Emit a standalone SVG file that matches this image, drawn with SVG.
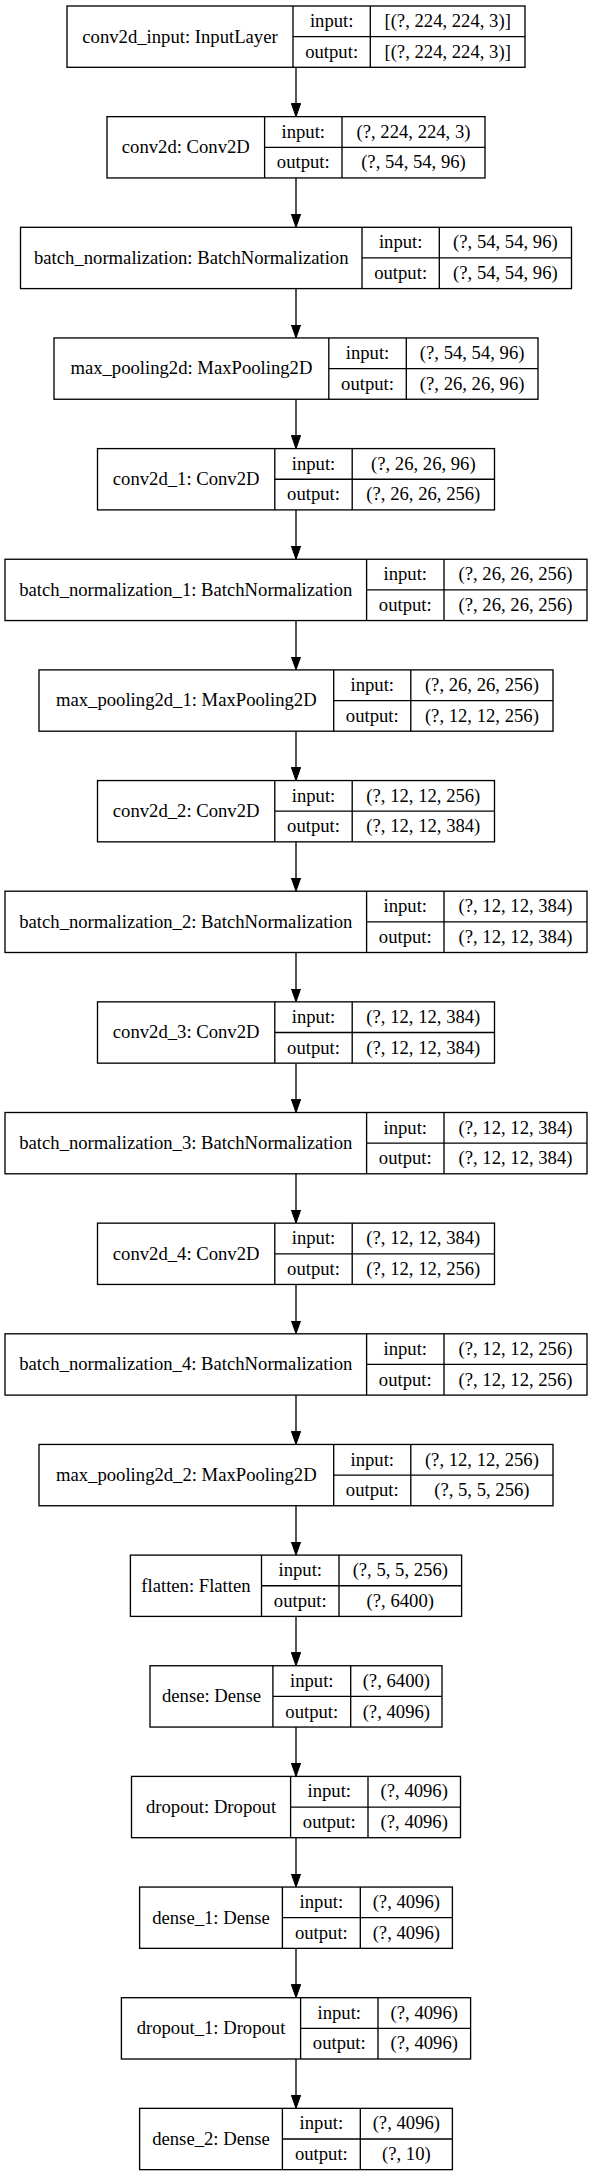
<svg xmlns="http://www.w3.org/2000/svg" width="592" height="2176" viewBox="0 0 592 2176" font-family="'Liberation Serif', 'Times New Roman', serif">
<style>
.box{fill:#fff;stroke:#000;stroke-width:1.33}
.ln{stroke:#000;stroke-width:1.33;fill:none}
.t{font-size:18.67px;text-anchor:middle;fill:#000}
</style>
<defs>
<marker id="ah" markerUnits="userSpaceOnUse" viewBox="0 0 14 10" refX="12.3" refY="4.67" markerWidth="14" markerHeight="10" orient="auto">
<path d="M0,0 L13.3,4.67 L0,9.33 Z" fill="#000" stroke="#000" stroke-width="1"/>
</marker>
</defs>
<rect width="592" height="2176" fill="#fff"/>
<g id="connectors" class="ln" marker-end="url(#ah)">
<line x1="296" y1="67.3" x2="296" y2="115.65"/>
<line x1="296" y1="177.95" x2="296" y2="226.3"/>
<line x1="296" y1="288.6" x2="296" y2="336.95"/>
<line x1="296" y1="399.25" x2="296" y2="447.6"/>
<line x1="296" y1="509.9" x2="296" y2="558.25"/>
<line x1="296" y1="620.55" x2="296" y2="668.9"/>
<line x1="296" y1="731.2" x2="296" y2="779.55"/>
<line x1="296" y1="841.85" x2="296" y2="890.2"/>
<line x1="296" y1="952.5" x2="296" y2="1000.85"/>
<line x1="296" y1="1063.15" x2="296" y2="1111.5"/>
<line x1="296" y1="1173.8" x2="296" y2="1222.15"/>
<line x1="296" y1="1284.45" x2="296" y2="1332.8"/>
<line x1="296" y1="1395.1" x2="296" y2="1443.45"/>
<line x1="296" y1="1505.75" x2="296" y2="1554.1"/>
<line x1="296" y1="1616.4" x2="296" y2="1664.75"/>
<line x1="296" y1="1727.05" x2="296" y2="1775.4"/>
<line x1="296" y1="1837.7" x2="296" y2="1886.05"/>
<line x1="296" y1="1948.35" x2="296" y2="1996.7"/>
<line x1="296" y1="2059" x2="296" y2="2107.35"/>
</g>

<g id="conv2d_input" class="t" transform="translate(0,6)">
<rect class="box" x="67" y="0" width="458" height="61.3"/>
<path class="ln" d="M293,0V61.3M370.3,0V61.3M293,30.65H525"/>
<text x="180" y="36.5">conv2d_input: InputLayer</text>
<text x="331.65" y="21.1">input:</text><text x="331.65" y="51.8">output:</text>
<text x="447.65" y="21.1">[(?, 224, 224, 3)]</text><text x="447.65" y="51.8">[(?, 224, 224, 3)]</text>
</g>

<g id="conv2d" class="t" transform="translate(0,116.65)">
<rect class="box" x="107" y="0" width="378" height="61.3"/>
<path class="ln" d="M264.6,0V61.3M342,0V61.3M264.6,30.65H485"/>
<text x="185.8" y="36.5">conv2d: Conv2D</text>
<text x="303.3" y="21.1">input:</text><text x="303.3" y="51.8">output:</text>
<text x="413.5" y="21.1">(?, 224, 224, 3)</text><text x="413.5" y="51.8">(?, 54, 54, 96)</text>
</g>

<g id="batch_normalization" class="t" transform="translate(0,227.3)">
<rect class="box" x="20.5" y="0" width="551" height="61.3"/>
<path class="ln" d="M362,0V61.3M439.3,0V61.3M362,30.65H571.5"/>
<text x="191.25" y="36.5">batch_normalization: BatchNormalization</text>
<text x="400.65" y="21.1">input:</text><text x="400.65" y="51.8">output:</text>
<text x="505.4" y="21.1">(?, 54, 54, 96)</text><text x="505.4" y="51.8">(?, 54, 54, 96)</text>
</g>

<g id="max_pooling2d" class="t" transform="translate(0,337.95)">
<rect class="box" x="54" y="0" width="484" height="61.3"/>
<path class="ln" d="M328.8,0V61.3M406.3,0V61.3M328.8,30.65H538"/>
<text x="191.4" y="36.5">max_pooling2d: MaxPooling2D</text>
<text x="367.55" y="21.1">input:</text><text x="367.55" y="51.8">output:</text>
<text x="472.15" y="21.1">(?, 54, 54, 96)</text><text x="472.15" y="51.8">(?, 26, 26, 96)</text>
</g>

<g id="conv2d_1" class="t" transform="translate(0,448.6)">
<rect class="box" x="97.5" y="0" width="397" height="61.3"/>
<path class="ln" d="M274.8,0V61.3M352.2,0V61.3M274.8,30.65H494.5"/>
<text x="186.15" y="36.5">conv2d_1: Conv2D</text>
<text x="313.5" y="21.1">input:</text><text x="313.5" y="51.8">output:</text>
<text x="423.35" y="21.1">(?, 26, 26, 96)</text><text x="423.35" y="51.8">(?, 26, 26, 256)</text>
</g>

<g id="batch_normalization_1" class="t" transform="translate(0,559.25)">
<rect class="box" x="5" y="0" width="582" height="61.3"/>
<path class="ln" d="M366.6,0V61.3M444,0V61.3M366.6,30.65H587"/>
<text x="185.8" y="36.5">batch_normalization_1: BatchNormalization</text>
<text x="405.3" y="21.1">input:</text><text x="405.3" y="51.8">output:</text>
<text x="515.5" y="21.1">(?, 26, 26, 256)</text><text x="515.5" y="51.8">(?, 26, 26, 256)</text>
</g>

<g id="max_pooling2d_1" class="t" transform="translate(0,669.9)">
<rect class="box" x="39" y="0" width="514" height="61.3"/>
<path class="ln" d="M333.7,0V61.3M410.8,0V61.3M333.7,30.65H553"/>
<text x="186.35" y="36.5">max_pooling2d_1: MaxPooling2D</text>
<text x="372.25" y="21.1">input:</text><text x="372.25" y="51.8">output:</text>
<text x="481.9" y="21.1">(?, 26, 26, 256)</text><text x="481.9" y="51.8">(?, 12, 12, 256)</text>
</g>

<g id="conv2d_2" class="t" transform="translate(0,780.55)">
<rect class="box" x="97.5" y="0" width="397" height="61.3"/>
<path class="ln" d="M274.8,0V61.3M352.2,0V61.3M274.8,30.65H494.5"/>
<text x="186.15" y="36.5">conv2d_2: Conv2D</text>
<text x="313.5" y="21.1">input:</text><text x="313.5" y="51.8">output:</text>
<text x="423.35" y="21.1">(?, 12, 12, 256)</text><text x="423.35" y="51.8">(?, 12, 12, 384)</text>
</g>

<g id="batch_normalization_2" class="t" transform="translate(0,891.2)">
<rect class="box" x="5" y="0" width="582" height="61.3"/>
<path class="ln" d="M366.6,0V61.3M444,0V61.3M366.6,30.65H587"/>
<text x="185.8" y="36.5">batch_normalization_2: BatchNormalization</text>
<text x="405.3" y="21.1">input:</text><text x="405.3" y="51.8">output:</text>
<text x="515.5" y="21.1">(?, 12, 12, 384)</text><text x="515.5" y="51.8">(?, 12, 12, 384)</text>
</g>

<g id="conv2d_3" class="t" transform="translate(0,1001.85)">
<rect class="box" x="97.5" y="0" width="397" height="61.3"/>
<path class="ln" d="M274.8,0V61.3M352.2,0V61.3M274.8,30.65H494.5"/>
<text x="186.15" y="36.5">conv2d_3: Conv2D</text>
<text x="313.5" y="21.1">input:</text><text x="313.5" y="51.8">output:</text>
<text x="423.35" y="21.1">(?, 12, 12, 384)</text><text x="423.35" y="51.8">(?, 12, 12, 384)</text>
</g>

<g id="batch_normalization_3" class="t" transform="translate(0,1112.5)">
<rect class="box" x="5" y="0" width="582" height="61.3"/>
<path class="ln" d="M366.6,0V61.3M444,0V61.3M366.6,30.65H587"/>
<text x="185.8" y="36.5">batch_normalization_3: BatchNormalization</text>
<text x="405.3" y="21.1">input:</text><text x="405.3" y="51.8">output:</text>
<text x="515.5" y="21.1">(?, 12, 12, 384)</text><text x="515.5" y="51.8">(?, 12, 12, 384)</text>
</g>

<g id="conv2d_4" class="t" transform="translate(0,1223.15)">
<rect class="box" x="97.5" y="0" width="397" height="61.3"/>
<path class="ln" d="M274.8,0V61.3M352.2,0V61.3M274.8,30.65H494.5"/>
<text x="186.15" y="36.5">conv2d_4: Conv2D</text>
<text x="313.5" y="21.1">input:</text><text x="313.5" y="51.8">output:</text>
<text x="423.35" y="21.1">(?, 12, 12, 384)</text><text x="423.35" y="51.8">(?, 12, 12, 256)</text>
</g>

<g id="batch_normalization_4" class="t" transform="translate(0,1333.8)">
<rect class="box" x="5" y="0" width="582" height="61.3"/>
<path class="ln" d="M366.6,0V61.3M444,0V61.3M366.6,30.65H587"/>
<text x="185.8" y="36.5">batch_normalization_4: BatchNormalization</text>
<text x="405.3" y="21.1">input:</text><text x="405.3" y="51.8">output:</text>
<text x="515.5" y="21.1">(?, 12, 12, 256)</text><text x="515.5" y="51.8">(?, 12, 12, 256)</text>
</g>

<g id="max_pooling2d_2" class="t" transform="translate(0,1444.45)">
<rect class="box" x="39" y="0" width="514" height="61.3"/>
<path class="ln" d="M333.7,0V61.3M410.8,0V61.3M333.7,30.65H553"/>
<text x="186.35" y="36.5">max_pooling2d_2: MaxPooling2D</text>
<text x="372.25" y="21.1">input:</text><text x="372.25" y="51.8">output:</text>
<text x="481.9" y="21.1">(?, 12, 12, 256)</text><text x="481.9" y="51.8">(?, 5, 5, 256)</text>
</g>

<g id="flatten" class="t" transform="translate(0,1555.1)">
<rect class="box" x="130.4" y="0" width="331.2" height="61.3"/>
<path class="ln" d="M261.5,0V61.3M339,0V61.3M261.5,30.65H461.6"/>
<text x="195.95" y="36.5">flatten: Flatten</text>
<text x="300.25" y="21.1">input:</text><text x="300.25" y="51.8">output:</text>
<text x="400.3" y="21.1">(?, 5, 5, 256)</text><text x="400.3" y="51.8">(?, 6400)</text>
</g>

<g id="dense" class="t" transform="translate(0,1665.75)">
<rect class="box" x="150" y="0" width="292" height="61.3"/>
<path class="ln" d="M272.9,0V61.3M350.7,0V61.3M272.9,30.65H442"/>
<text x="211.45" y="36.5">dense: Dense</text>
<text x="311.8" y="21.1">input:</text><text x="311.8" y="51.8">output:</text>
<text x="396.35" y="21.1">(?, 6400)</text><text x="396.35" y="51.8">(?, 4096)</text>
</g>

<g id="dropout" class="t" transform="translate(0,1776.4)">
<rect class="box" x="131.5" y="0" width="329" height="61.3"/>
<path class="ln" d="M290.6,0V61.3M368,0V61.3M290.6,30.65H460.5"/>
<text x="211.05" y="36.5">dropout: Dropout</text>
<text x="329.3" y="21.1">input:</text><text x="329.3" y="51.8">output:</text>
<text x="414.25" y="21.1">(?, 4096)</text><text x="414.25" y="51.8">(?, 4096)</text>
</g>

<g id="dense_1" class="t" transform="translate(0,1887.05)">
<rect class="box" x="139.6" y="0" width="312.8" height="61.3"/>
<path class="ln" d="M282.4,0V61.3M360.3,0V61.3M282.4,30.65H452.4"/>
<text x="211" y="36.5">dense_1: Dense</text>
<text x="321.35" y="21.1">input:</text><text x="321.35" y="51.8">output:</text>
<text x="406.35" y="21.1">(?, 4096)</text><text x="406.35" y="51.8">(?, 4096)</text>
</g>

<g id="dropout_1" class="t" transform="translate(0,1997.7)">
<rect class="box" x="121.4" y="0" width="349.2" height="61.3"/>
<path class="ln" d="M300.6,0V61.3M378,0V61.3M300.6,30.65H470.6"/>
<text x="211" y="36.5">dropout_1: Dropout</text>
<text x="339.3" y="21.1">input:</text><text x="339.3" y="51.8">output:</text>
<text x="424.3" y="21.1">(?, 4096)</text><text x="424.3" y="51.8">(?, 4096)</text>
</g>

<g id="dense_2" class="t" transform="translate(0,2108.35)">
<rect class="box" x="139.6" y="0" width="312.8" height="61.3"/>
<path class="ln" d="M282.4,0V61.3M360.3,0V61.3M282.4,30.65H452.4"/>
<text x="211" y="36.5">dense_2: Dense</text>
<text x="321.35" y="21.1">input:</text><text x="321.35" y="51.8">output:</text>
<text x="406.35" y="21.1">(?, 4096)</text><text x="406.35" y="51.8">(?, 10)</text>
</g>
</svg>
